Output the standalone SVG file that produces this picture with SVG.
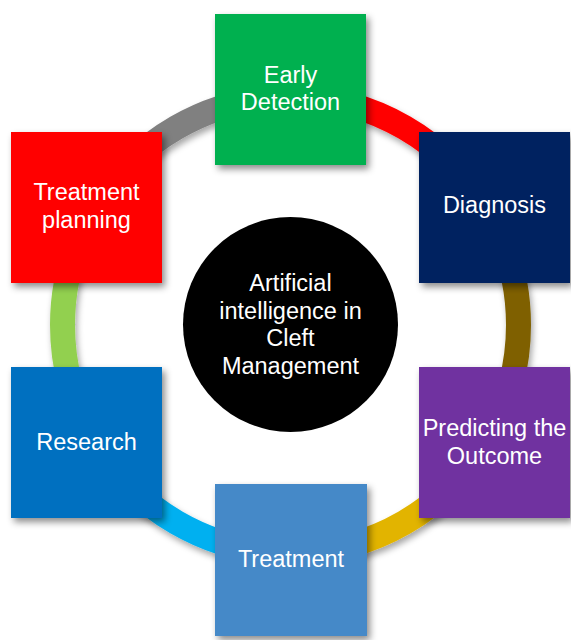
<svg xmlns="http://www.w3.org/2000/svg" width="571" height="640" viewBox="0 0 571 640">
<defs>
<filter id="sh" x="-20%" y="-20%" width="150%" height="150%">
<feDropShadow dx="3" dy="4" stdDeviation="3.5" flood-color="#000" flood-opacity="0.45"/>
</filter>
<filter id="shr" x="-20%" y="-20%" width="150%" height="150%">
<feDropShadow dx="2" dy="4" stdDeviation="3" flood-color="#000" flood-opacity="0.35"/>
</filter>
</defs>
<style>
.seg{fill:none;stroke-width:25;stroke-linecap:butt}
.lbl{font-family:"Liberation Sans",Arial,sans-serif;font-size:23.5px;fill:#fff;text-anchor:middle}
</style>
<rect width="571" height="640" fill="#fff"/>
<g id="connectors" filter="url(#shr)">
<path class="seg" stroke="#FF0000" d="M290.5,97 A228,228 0 0 1 487.95,211"/>
<path class="seg" stroke="#7F6000" d="M487.95,211 A228,228 0 0 1 487.95,439"/>
<path class="seg" stroke="#E2B400" d="M487.95,439 A228,228 0 0 1 290.5,553"/>
<path class="seg" stroke="#00B0F0" d="M290.5,553 A228,228 0 0 1 93.05,439"/>
<path class="seg" stroke="#92D050" d="M93.05,439 A228,228 0 0 1 93.05,211"/>
<path class="seg" stroke="#808080" d="M93.05,211 A228,228 0 0 1 290.5,97"/>
</g>
<g id="center">
<circle cx="290.5" cy="324.5" r="107.5" fill="#000"/>
<text class="lbl" x="290.5" y="291">Artificial</text>
<text class="lbl" x="290.5" y="318.5">intelligence in</text>
<text class="lbl" x="290.5" y="346">Cleft</text>
<text class="lbl" x="290.5" y="373.5">Management</text>
</g>
<g id="early-detection">
<rect x="215" y="14" width="151" height="151" fill="#00B050" filter="url(#sh)"/>
<text class="lbl" x="290.5" y="83">Early</text>
<text class="lbl" x="290.5" y="110">Detection</text>
</g>
<g id="diagnosis">
<rect x="419" y="132" width="151" height="151" fill="#002060" filter="url(#sh)"/>
<text class="lbl" x="494.5" y="213">Diagnosis</text>
</g>
<g id="predicting">
<rect x="419" y="367" width="151" height="151" fill="#7030A0" filter="url(#sh)"/>
<text class="lbl" x="494.5" y="436">Predicting the</text>
<text class="lbl" x="494.5" y="464">Outcome</text>
</g>
<g id="treatment">
<rect x="215" y="484" width="152" height="152" fill="#4589C8" filter="url(#sh)"/>
<text class="lbl" x="291" y="567">Treatment</text>
</g>
<g id="research">
<rect x="11" y="367" width="151" height="151" fill="#0070C0" filter="url(#sh)"/>
<text class="lbl" x="86.5" y="450">Research</text>
</g>
<g id="treatment-planning">
<rect x="11" y="132" width="151" height="151" fill="#FF0000" filter="url(#sh)"/>
<text class="lbl" x="86.5" y="200">Treatment</text>
<text class="lbl" x="86.5" y="228">planning</text>
</g>
</svg>
